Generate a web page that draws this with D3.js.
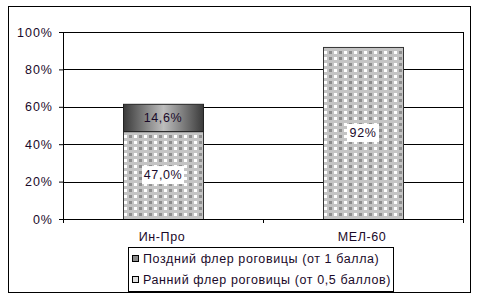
<!DOCTYPE html>
<html>
<head>
<meta charset="utf-8">
<script src="https://cdn.jsdelivr.net/npm/d3@7"></script>
<style>
  body { margin: 0; background: #fff; }
  text { font-family: "Liberation Sans", Arial, sans-serif; font-size: 12.5px; letter-spacing: 0.6px; fill: #1a0a2a; }
</style>
</head>
<body>
<div id="chart"></div>
<script>
// data
var categories = ["Ин-Про", "МЕЛ-60"];
var early = [47.0, 92];      // Ранний флер (bottom)
var late = [14.6, 0];        // Поздний флер (top)
var earlyLabels = ["47,0%", "92%"];
var lateLabels = ["14,6%", ""];
var yTicks = [0, 20, 40, 60, 80, 100];
var legendNames = ["Поздний флер роговицы (от 1 балла)", "Ранний флер роговицы (от 0,5 баллов)"];

var W = 500, H = 300;
var margin = {top: 32, right: 37, bottom: 81, left: 63},
    width = W - margin.left - margin.right,
    height = H - margin.top - margin.bottom;

var svg = d3.select("#chart")
  .append("svg")
    .attr("width", W)
    .attr("height", H);

var defs = svg.append("defs");

// checkered fill for early series
var pat = defs.append("pattern")
    .attr("id", "check")
    .attr("patternUnits", "userSpaceOnUse")
    .attr("width", 10).attr("height", 6);
pat.append("rect").attr("width", 10).attr("height", 6).attr("fill", "#c4c4c4");
pat.append("rect").attr("x", 1).attr("y", 1).attr("width", 3).attr("height", 3).attr("fill", "#ffffff");
pat.append("rect").attr("x", 6).attr("y", 1).attr("width", 3).attr("height", 3).attr("fill", "#8e8e8e");

// cylinder gradient for late series
var grad = defs.append("linearGradient")
    .attr("id", "cyl")
    .attr("x1", "0%").attr("x2", "100%").attr("y1", "0%").attr("y2", "0%");
grad.append("stop").attr("offset", "0%").attr("stop-color", "#3a3a3a");
grad.append("stop").attr("offset", "50%").attr("stop-color", "#bdbdbd");
grad.append("stop").attr("offset", "100%").attr("stop-color", "#3a3a3a");

// outer frame
svg.append("rect")
    .attr("x", 8.5).attr("y", 6.5)
    .attr("width", 462).attr("height", 286)
    .attr("fill", "none").attr("stroke", "#000");

var g = svg.append("g")
    .attr("transform", "translate(" + margin.left + "," + margin.top + ")");

var x = d3.scaleBand()
    .domain(categories)
    .range([0, width])
    .paddingInner(0.6)
    .paddingOuter(0.3);

var y = d3.scaleLinear()
    .domain([0, 100])
    .range([height, 0]);

// gridlines
g.append("g")
  .selectAll("line")
  .data(yTicks.slice(1))
  .enter()
  .append("line")
    .attr("x1", 0).attr("x2", width)
    .attr("y1", d => Math.round(y(d)) + 0.5)
    .attr("y2", d => Math.round(y(d)) + 0.5)
    .attr("stroke", "#000");

// right border of plot
g.append("line")
    .attr("x1", width + 0.5).attr("x2", width + 0.5)
    .attr("y1", 0).attr("y2", height)
    .attr("stroke", "#000");

// bars
var cats = categories.map(function(c, i) {
  return {cat: c, early: early[i], late: late[i], el: earlyLabels[i], ll: lateLabels[i]};
});

g.append("g")
  .selectAll("rect")
  .data(cats)
  .enter()
  .append("rect")
    .attr("x", d => x(d.cat) + 0.5)
    .attr("y", d => y(d.early) + 0.5)
    .attr("width", x.bandwidth())
    .attr("height", d => y(0) - y(d.early))
    .attr("fill", "url(#check)")
    .attr("stroke", "#333");

g.append("g")
  .selectAll("rect")
  .data(cats.filter(d => d.late > 0))
  .enter()
  .append("rect")
    .attr("x", d => x(d.cat) + 0.5)
    .attr("y", d => y(d.early + d.late) + 0.5)
    .attr("width", x.bandwidth())
    .attr("height", d => y(d.early) - y(d.early + d.late))
    .attr("fill", "url(#cyl)")
    .attr("stroke", "#222");

// value labels (early, with white boxes)
var eLab = g.append("g")
  .selectAll("g")
  .data(cats)
  .enter()
  .append("g")
    .attr("transform", d => "translate(" + (x(d.cat) + x.bandwidth() / 2) + "," + ((y(0) + y(d.early)) / 2) + ")");
eLab.append("rect")
    .attr("x", d => d.el.length > 3 ? -21 : -16)
    .attr("y", -9)
    .attr("width", d => d.el.length > 3 ? 42 : 32)
    .attr("height", 18)
    .attr("fill", "#fff");
eLab.append("text")
    .attr("text-anchor", "middle")
    .attr("dy", "0.35em")
    .text(d => d.el);

g.append("g")
  .selectAll("text")
  .data(cats.filter(d => d.late > 0))
  .enter()
  .append("text")
    .attr("x", d => x(d.cat) + x.bandwidth() / 2)
    .attr("y", d => (y(d.early) + y(d.early + d.late)) / 2)
    .attr("text-anchor", "middle")
    .attr("dy", "0.35em")
    .text(d => d.ll);

// y axis
var yAxis = g.append("g")
    .call(d3.axisLeft(y).tickValues(yTicks).tickSize(4).tickPadding(6).tickFormat(d => d + "%"));
yAxis.select(".domain").attr("stroke", "#000");
yAxis.selectAll("text")
    .style("font-size", "12.5px")
    .style("font-family", "Liberation Sans, Arial, sans-serif")
    .style("letter-spacing", "1px")
    .attr("fill", "#1a0a2a");

// x axis with ticks at category boundaries
var xAxis = g.append("g")
    .attr("transform", "translate(0," + height + ")");
xAxis.append("line")
    .attr("x1", 0).attr("x2", width)
    .attr("y1", 0.5).attr("y2", 0.5)
    .attr("stroke", "#000");
xAxis.selectAll(".bt")
  .data([0, 1, 2])
  .enter()
  .append("line")
    .attr("x1", d => Math.round(d * x.step()) + 0.5)
    .attr("x2", d => Math.round(d * x.step()) + 0.5)
    .attr("y1", 0).attr("y2", 4)
    .attr("stroke", "#000");
xAxis.selectAll(".cl")
  .data(categories)
  .enter()
  .append("text")
    .attr("x", d => x(d) + x.bandwidth() / 2 - 1)
    .attr("y", 22)
    .attr("text-anchor", "middle")
    .text(d => d);

// legend
var lg = svg.append("g").attr("transform", "translate(128,247)");
lg.append("rect")
    .attr("x", 0.5).attr("y", 0.5)
    .attr("width", 265).attr("height", 44)
    .attr("fill", "#fff").attr("stroke", "#000");
var items = lg.selectAll(".li")
  .data(legendNames)
  .enter()
  .append("g")
    .attr("transform", (d, i) => "translate(4," + (12 + i * 21) + ")");
items.append("rect")
    .attr("x", 0.5).attr("y", -3.5)
    .attr("width", 6).attr("height", 6)
    .attr("fill", (d, i) => i === 0 ? "#8a8a8a" : "#e0e0e0")
    .attr("stroke", "#000");
items.append("text")
    .attr("x", 11)
    .attr("dy", "0.35em")
    .text(d => d);
</script>
</body>
</html>
